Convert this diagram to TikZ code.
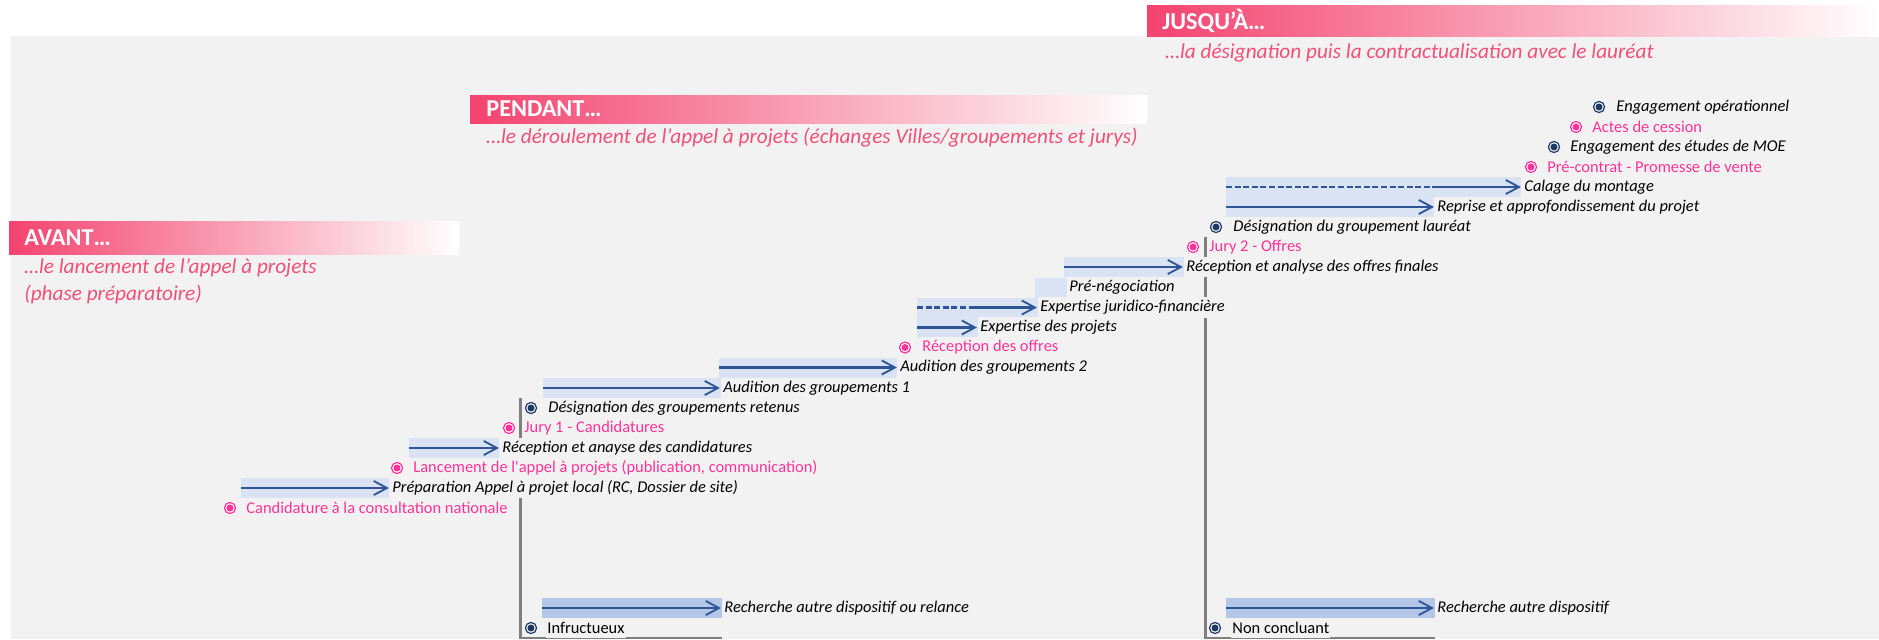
\documentclass[tikz,border=0pt]{standalone}
\usepackage{fontspec}
\setmainfont{Carlito}
\usetikzlibrary{arrows.meta}

\definecolor{fond}{RGB}{242,242,242}
\definecolor{bleupale}{RGB}{218,227,243}
\definecolor{bleumoyen}{RGB}{180,199,231}
\definecolor{bleu}{RGB}{47,85,151}
\definecolor{bleufonce}{RGB}{31,56,100}
\definecolor{jalon}{RGB}{255,51,153}
\definecolor{rose}{RGB}{240,80,120}
\definecolor{bandeau}{RGB}{244,67,111}
\definecolor{trait}{RGB}{127,127,127}

\tikzset{
  lbl/.style={anchor=west, fill=fond, inner xsep=0.6pt, inner ysep=0pt, minimum height=11.4pt, font=\fontsize{9.35}{11}\selectfont\itshape},
  droit/.style={lbl, font=\fontsize{9.35}{11}\selectfont},
  jal/.style={droit, text=jalon},
  puce/.style={circle, draw=#1, line width=0.7pt, fill=white, inner sep=0pt, minimum size=6.3pt,
    path picture={\fill[#1] (path picture bounding box.center) circle (2pt);}},
  puce/.default=bleufonce,
  fleche/.style={draw=bleu, line width=1.15pt, -{Straight Barb[length=7.5pt,width=8pt,line width=1.05pt]}, shorten >=1.2pt},
  pointille/.style={draw=bleu, line width=1.15pt, dash pattern=on 3.4pt off 1.5pt},
  titre/.style={anchor=west, text=white, inner sep=0pt, font=\fontsize{13.8}{15}\selectfont\bfseries},
  soustitre/.style={anchor=west, text=rose, inner sep=0pt, font=\fontsize{12.1}{14}\selectfont\itshape},
  repere/.style={draw=trait, line width=1.7pt}
}

\begin{document}
\begin{tikzpicture}[x=0.02cm, y=-0.02cm]
\useasboundingbox (0,0) rectangle (1879,639);
\fill[fond] (11,36) rectangle (1879,639);

% bandeaux
\shade[left color=bandeau, right color=white] (9,221) rectangle (459,254);
\shade[left color=bandeau, right color=white] (470,95) rectangle (1147,123);
\shade[left color=bandeau, right color=white] (1147,5) rectangle (1879,36);
\node (avant) at (24,237.5) [titre] {AVANT…};
\node (pendant) at (486,109) [titre] {PENDANT…};
\node (jusqua) at (1162,20.5) [titre] {JUSQU’À…};
\node (avant1) at (24,268) [soustitre] {…le lancement de l’appel à projets};
\node (avant2) at (24,294) [soustitre] {(phase préparatoire)};
\node (pendant1) at (486,138) [soustitre] {…le déroulement de l’appel à projets (échanges Villes/groupements et jurys)};
\node (jusqua1) at (1165,53) [soustitre] {…la désignation puis la contractualisation avec le lauréat};

% traits de decision
\draw[repere] (520,398) -- (520,638.5);
\draw[trait, line width=1.1pt] (520,638) -- (722,638);
\draw[repere] (1205,237) -- (1205,638.5);
\draw[trait, line width=1.1pt] (1205,638) -- (1435,638);

% barres
\fill[bleupale] (1226,177) rectangle (1521,197);
\fill[bleupale] (1226,197) rectangle (1434,217);
\fill[bleupale] (1064,257) rectangle (1184,277);
\fill[bleupale] (1035,277.5) rectangle (1067,297.5);
\fill[bleupale] (917,297.5) rectangle (1038,317.5);
\fill[bleupale] (917,317.5) rectangle (978,337.5);
\fill[bleupale] (719,357.5) rectangle (897,377.5);
\fill[bleupale] (543,378) rectangle (721,398);
\fill[bleupale] (409,438) rectangle (499,458);
\fill[bleupale] (241,478) rectangle (389,498);
\fill[bleumoyen] (542,598) rectangle (722,618);
\fill[bleumoyen] (1226,598) rectangle (1435,618);

% jalons et etapes
\node (p0) at (1599,107) [puce] {};
\node (t0) at (1615,107) [lbl] {Engagement opérationnel};
\node (p1) at (1576,127) [puce=jalon] {};
\node (t1) at (1591,127) [jal] {Actes de cession};
\node (p2) at (1554,147) [puce] {};
\node (t2) at (1569,147) [lbl] {Engagement des études de MOE};
\node (p3) at (1531,167) [puce=jalon] {};
\node (t3) at (1546,167) [jal] {Pré-contrat - Promesse de vente};
\node (t4) at (1523,187) [lbl] {Calage du montage};
\node (t5) at (1436,207) [lbl] {Reprise et approfondissement du projet};
\node (p6) at (1216,227) [puce] {};
\node (t6) at (1232,227) [lbl] {Désignation du groupement lauréat};
\node (p7) at (1193,247) [puce=jalon] {};
\node (t7) at (1208,247) [jal] {Jury 2 - Offres};
\node (t8) at (1185,267) [lbl] {Réception et analyse des offres finales};
\node (t9) at (1068,287.5) [lbl] {Pré-négociation};
\node (t10) at (1039,307.5) [lbl] {Expertise juridico-financière};
\node (t11) at (979,327.5) [lbl] {Expertise des projets};
\node (p12) at (905,347.5) [puce=jalon] {};
\node (t12) at (921,347.5) [jal] {Réception des offres};
\node (t13) at (899,367.5) [lbl] {Audition des groupements 2};
\node (t14) at (722,388) [lbl] {Audition des groupements 1};
\node (p15) at (531,408) [puce] {};
\node (t15) at (547,408) [lbl] {Désignation des groupements retenus};
\node (p16) at (509,428) [puce=jalon] {};
\node (t16) at (523,428) [jal] {Jury 1 - Candidatures};
\node (t17) at (501,448) [lbl] {Réception et anayse des candidatures};
\node (p18) at (397,468) [puce=jalon] {};
\node (t18) at (412,468) [jal] {Lancement de l\textquotesingle appel à projets (publication, communication)};
\node (t19) at (391,488) [lbl] {Préparation Appel à projet local (RC, Dossier de site)};
\node (p20) at (230,508) [puce=jalon] {};
\node (t20) at (245,508) [jal] {Candidature à la consultation nationale};
\node (t25a) at (723,608) [lbl] {Recherche autre dispositif ou relance};
\node (p26a) at (531,628) [puce] {};
\node (t26a) at (546,628) [droit] {Infructueux};
\node (t25b) at (1436,608) [lbl] {Recherche autre dispositif};
\node (p26b) at (1215,628) [puce] {};
\node (t26b) at (1231,628) [droit] {Non concluant};

% fleches
\coordinate (d4) at (1226,187);
\coordinate (m4) at (1432,187);
\coordinate (d5) at (1226,207);
\coordinate (d8) at (1064,267);
\coordinate (d10) at (917,307.5);
\coordinate (m10) at (975,307.5);
\coordinate (d11) at (917,327.5);
\coordinate (d13) at (719,367.5);
\coordinate (d14) at (543,388);
\coordinate (d17) at (409,448);
\coordinate (d19) at (241,488);
\coordinate (d25a) at (542,608);
\coordinate (d25b) at (1226,608);
\draw[pointille] (d4) -- (m4);
\draw[fleche] (m4) -- (t4);
\draw[fleche] (d5) -- (t5);
\draw[fleche] (d8) -- (t8);
\draw[pointille] (d10) -- (m10);
\draw[fleche] (m10) -- (t10);
\draw[fleche] (d11) -- (t11);
\draw[fleche] (d13) -- (t13);
\draw[fleche] (d14) -- (t14);
\draw[fleche] (d17) -- (t17);
\draw[fleche] (d19) -- (t19);
\draw[fleche] (d25a) -- (t25a);
\draw[fleche] (d25b) -- (t25b);
\end{tikzpicture}
\end{document}
